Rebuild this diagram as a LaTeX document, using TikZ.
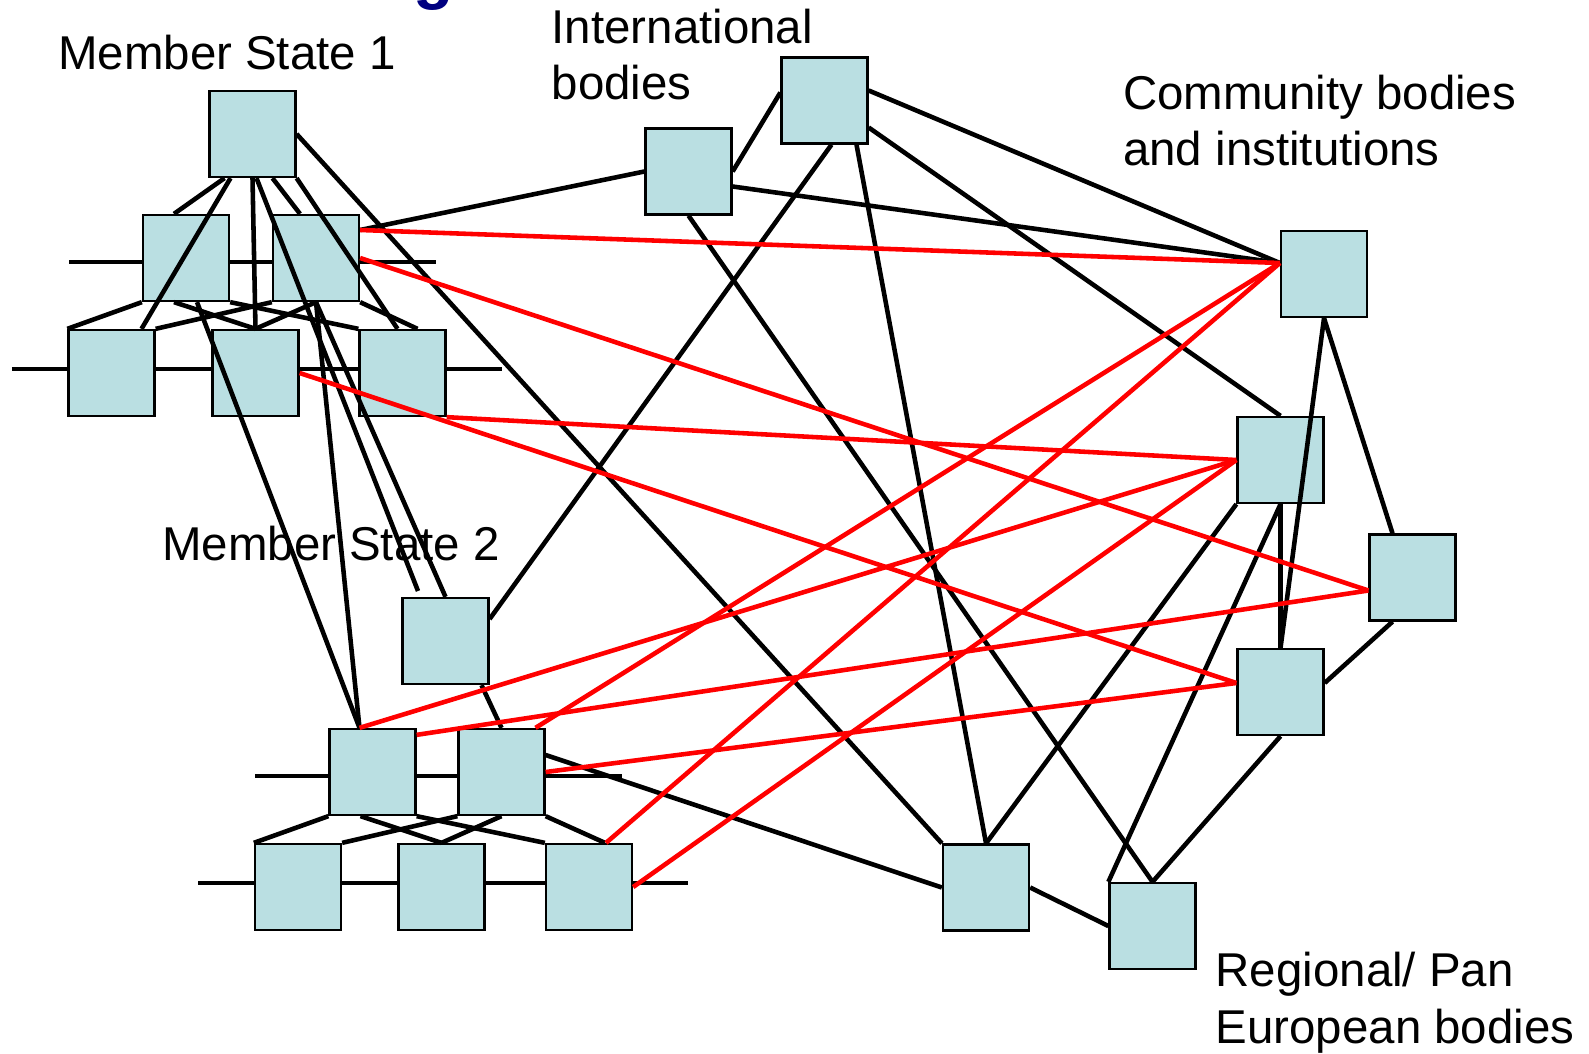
\documentclass[tikz,border=0pt]{standalone}
\usepackage{fontspec}
\setmainfont{Liberation Sans}
\definecolor{boxblue}{RGB}{186,223,226}
\definecolor{titleblue}{RGB}{0,0,128}

\begin{document}
\begin{tikzpicture}[
		box/.style={draw=black, fill=boxblue, line width=0.65pt, minimum size=0.86cm, inner sep=0pt},
		link/.style={black, line width=1.3pt},
		xlink/.style={red, line width=1.3pt},
		level/.style={black, line width=1.3pt},
		lbl/.style={font=\fontsize{13.5}{16.2}\selectfont, inner sep=0pt, align=left, anchor=base west}
	]
			\useasboundingbox (0,0) rectangle (15.89,10.53);
			
			% title, cut by the page edge
			\node[anchor=base west, inner sep=0pt, text=titleblue, font=\fontsize{18.8}{22}\selectfont\bfseries] (title) at (4.13,10.56) {g};
			
			% labels
			\node[lbl] (lms1) at (0.575,9.83) {Member State 1};
			\node[lbl] (lint) at (5.51,9.53) {International\\bodies};
			\node[lbl] (lcom) at (11.225,8.87) {Community bodies\\and institutions};
			\node[lbl] (lms2) at (1.615,4.93) {Member State 2};
			\node[lbl] (lreg) at (12.15,0.10) {Regional/ Pan\\European bodies};
			
			% levels of member state 1
			\draw[level] (0.69,7.91) -- (4.36,7.91);
			\draw[level] (0.12,6.84) -- (5.02,6.84);
			% levels of member state 2
			\draw[level] (2.55,2.77) -- (6.22,2.77);
			\draw[level] (1.98,1.70) -- (6.88,1.70);
			
			% member state 1
			\node[box] (ms1top) at (2.525,9.19) {};
			\node[box] (ms1l) at (1.86,7.95) {};
			\node[box] (ms1r) at (3.16,7.95) {};
			\foreach \n/\x in {a/1.115,b/2.555,c/4.025}{
				\node[box] (ms1\n) at (\x,6.80) {};
			}
			
			% member state 2
			\node[box] (ms2top) at (4.455,4.12) {};
			\node[box] (ms2l) at (3.725,2.81) {};
			\node[box] (ms2r) at (5.015,2.81) {};
			\foreach \n/\x in {a/2.98,b/4.415,c/5.89}{
				\node[box] (ms2\n) at (\x,1.66) {};
			}
			
			% international, community and regional bodies
			\node[box] (int1) at (6.885,8.815) {};
			\node[box] (int2) at (8.245,9.525) {};
			\node[box] (com1) at (13.24,7.79) {};
			\node[box] (com2) at (12.805,5.93) {};
			\node[box] (com3) at (14.125,4.755) {};
			\node[box] (com4) at (12.805,3.61) {};
			\node[box] (reg1) at (9.86,1.655) {};
			\node[box] (reg2) at (11.525,1.27) {};
			
			\coordinate (loose) at (4.18,4.62);
			
			% inside member state 1
			\draw[link] ([xshift=-0.28cm]ms1top.south) -- ([xshift=-0.12cm]ms1l.north);
			\draw[link] ([xshift=-0.22cm]ms1top.south) -- ([xshift=0.3cm]ms1a.north);
			\draw[link] (ms1top.south) -- (ms1b.north);
			\draw[link] ([xshift=0.04cm]ms1top.south) -- (loose);
			\draw[link] ([xshift=0.2cm]ms1top.south) -- ([xshift=-0.16cm]ms1r.north);
			\draw[link] (ms1top.south east) -- ([xshift=-0.05cm]ms1c.north);
			\draw[link] (ms1l.south west) -- (ms1a.north west);
			\draw[link] ([xshift=-0.12cm]ms1l.south) -- (ms1b.north);
			\draw[link] (ms1l.south east) -- (ms1c.north west);
			\draw[link] (ms1r.south west) -- (ms1a.north east);
			\draw[link] (ms1r.south) -- (ms1b.north);
			\draw[link] (ms1r.south east) -- ([xshift=0.15cm]ms1c.north);
			
			% member state 1 to member state 2
			\draw[link] ([xshift=0.11cm]ms1l.south) -- ([xshift=-0.13cm]ms2l.north);
			\draw[link] (ms1r.south) -- ([xshift=-0.13cm]ms2l.north);
			\draw[link] (ms1r.south) -- (ms2top.north);
			
			% inside member state 2
			\draw[link] ([xshift=0.36cm]ms2top.south) -- (ms2r.north);
			\draw[link] (ms2l.south west) -- (ms2a.north west);
			\draw[link] ([xshift=-0.12cm]ms2l.south) -- (ms2b.north);
			\draw[link] (ms2l.south east) -- (ms2c.north west);
			\draw[link] (ms2r.south west) -- (ms2a.north east);
			\draw[link] (ms2r.south) -- (ms2b.north);
			\draw[link] (ms2r.south east) -- ([xshift=0.16cm]ms2c.north);
			
			% international bodies
			\draw[link] ([yshift=0.28cm]ms1r.east) -- (int1.west);
			\draw[link] (int1.east) -- ([yshift=0.08cm]int2.west);
			\draw[link] ([yshift=-0.15cm]int1.east) -- ([yshift=0.11cm]com1.west);
			\draw[link] (int1.south) -- (reg2.north);
			\draw[link] ([xshift=0.07cm]int2.south) -- ([yshift=0.22cm]ms2top.east);
			\draw[link] ([xshift=0.32cm]int2.south) -- (reg1.north);
			\draw[link] ([yshift=0.1cm]int2.east) -- ([yshift=0.11cm]com1.west);
			\draw[link] ([yshift=-0.27cm]int2.east) -- (com2.north);
			
			% community bodies
			\draw[link] (com1.south) -- (com4.north);
			\draw[link] (com1.south) -- ([xshift=-0.2cm]com3.north);
			\draw[link] (com2.south) -- (com4.north);
			\draw[link] (com2.south west) -- (reg1.north);
			\draw[link] (com2.south) -- (reg2.north west);
			\draw[link] ([xshift=-0.2cm]com3.south) -- ([yshift=0.09cm]com4.east);
			\draw[link] (com4.south) -- (reg2.north);
			
			% regional bodies
			\draw[link] (ms1top.east) -- (reg1.north west);
			\draw[link] ([yshift=0.17cm]ms2r.east) -- (reg1.west);
			\draw[link] (reg1.east) -- (reg2.west);
			
			% red links
			\draw[xlink] ([yshift=0.28cm]ms1r.east) -- ([yshift=0.11cm]com1.west);
			\draw[xlink] (ms1r.east) -- ([yshift=-0.13cm]com3.west);
			\draw[xlink] (ms1b.east) -- ([yshift=0.09cm]com4.west);
			\draw[xlink] (ms1c.south east) -- (com2.west);
			\draw[xlink] ([xshift=-0.13cm]ms2l.north) -- (com2.west);
			\draw[xlink] ([yshift=-0.07cm]ms2l.north east) -- ([yshift=-0.13cm]com3.west);
			\draw[xlink] ([xshift=0.34cm]ms2r.north) -- ([yshift=0.11cm]com1.west);
			\draw[xlink] (ms2r.east) -- ([yshift=0.09cm]com4.west);
			\draw[xlink] ([xshift=0.17cm]ms2c.north) -- ([yshift=0.11cm]com1.west);
			\draw[xlink] (ms2c.east) -- (com2.west);
			
\end{tikzpicture}
\end{document}
